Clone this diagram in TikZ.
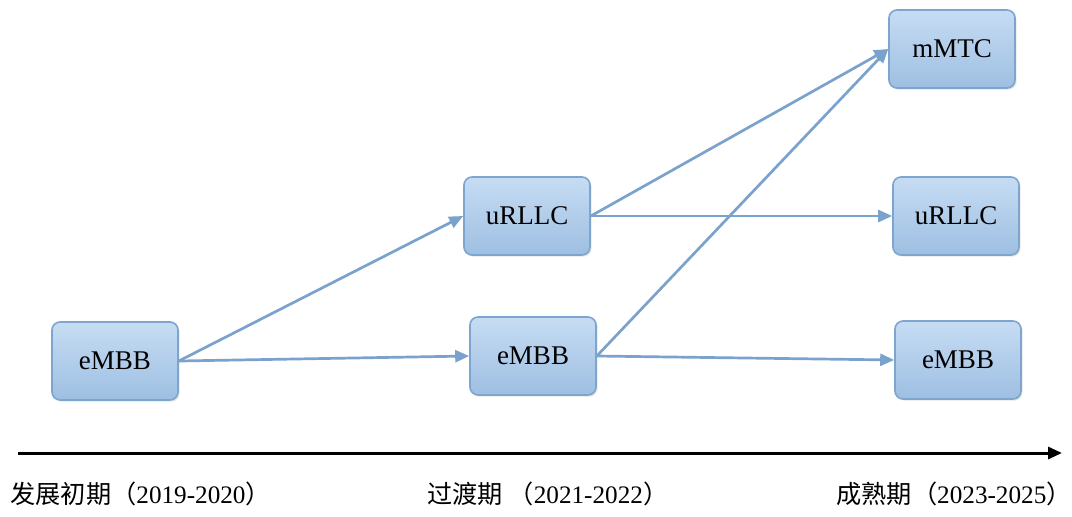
\documentclass[tikz,border=0pt]{standalone}
\usepackage{fontspec}
\setmainfont{Liberation Serif}
\newfontfamily\cjk{Noto Sans CJK SC}
\usepackage{tikz}
\usetikzlibrary{arrows.meta, shadows}
\definecolor{BoxTop}{RGB}{198,220,243}
\definecolor{BoxBot}{RGB}{158,191,226}
\definecolor{BoxLine}{RGB}{125,165,206}
\definecolor{ArrBlue}{RGB}{122,162,204}

\begin{document}
\begin{tikzpicture}[x=0.5pt, y=-0.5pt,
          sbox/.style={rectangle, rounded corners=4pt, minimum width=63pt,
                       minimum height=39pt, top color=BoxTop, bottom color=BoxBot,
                       draw=BoxLine, line width=0.8pt,
                       font=\fontsize{13.5}{16}\selectfont,
                       drop shadow={opacity=0.2, shadow xshift=0.8pt, shadow yshift=-0.8pt}},
          arr/.style={-{Triangle[length=7pt, width=6pt]}, draw=ArrBlue, line width=1.35pt},
          tarr/.style={-{Triangle[length=7pt, width=6pt]}, draw=black, line width=1.5pt},
          period/.style={font=\fontsize{12.6}{15}\selectfont, anchor=west, inner sep=0pt}
        ]
        \useasboundingbox (0,0) rectangle (1072,516);

        % stage 1
        \node[sbox] (embbA) at (115,361) {eMBB};

        % stage 2
        \node[sbox] (urllcB) at (527,216) {uRLLC};
        \node[sbox] (embbB)  at (533,356) {eMBB};

        % stage 3
        \node[sbox] (mmtcC)  at (952,49)  {mMTC};
        \node[sbox] (urllcC) at (956,216) {uRLLC};
        \node[sbox] (embbC)  at (958,360) {eMBB};

        % evolution
        \draw[arr] (embbA.east)  -- (urllcB.west);
        \draw[arr] (embbA.east)  -- (embbB.west);
        \draw[arr] (urllcB.east) -- (mmtcC.west);
        \draw[arr] (urllcB.east) -- (urllcC.west);
        \draw[arr] (embbB.east)  -- (mmtcC.west);
        \draw[arr] (embbB.east)  -- (embbC.west);

        % time axis
        \coordinate (t0) at (18,453);
        \coordinate (t1) at (1062,453);
        \draw[tarr] (t0) -- (t1);
        \node[period] (p1) at (10,494)  {{\cjk 发展初期（}2019-2020{\cjk ）}};
        \node[period] (p2) at (427,494) {{\cjk 过渡期 （}2021-2022{\cjk ）}};
        \node[period] (p3) at (836,494) {{\cjk 成熟期（}2023-2025{\cjk ）}};
      \end{tikzpicture}
\end{document}
